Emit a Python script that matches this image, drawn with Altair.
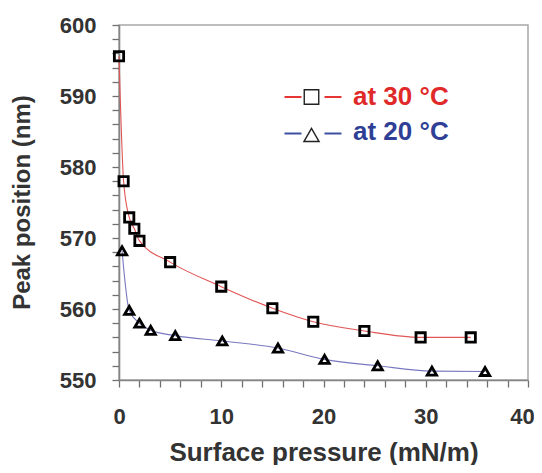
import altair as alt
import pandas as pd

# ---- data ----
series_names = ["at 30 °C", "at 20 °C"]
x_30 = [0.0, 0.45, 1.0, 1.5, 2.0, 5.0, 10.0, 15.0, 19.0, 24.0, 29.5, 34.4]
y_30 = [595.6, 578.0, 572.9, 571.3, 569.6, 566.6, 563.15, 560.1, 558.2, 556.9, 556.0, 556.0]
x_20 = [0.3, 1.0, 2.0, 3.1, 5.5, 10.1, 15.55, 20.1, 25.3, 30.6, 35.8]
y_20 = [568.2, 559.8, 558.0, 557.0, 556.25, 555.5, 554.5, 552.9, 552.0, 551.25, 551.2]
x_ticks = list(range(0, 41, 2))
y_ticks = list(range(550, 601, 2))

line_colors = ["#e25555", "#7878c0"]
dash_colors = ["#e53535", "#3d4fa0"]
text_colors = ["#e02a2a", "#2f3f96"]
shapes = ["square", "triangle-up"]
FONT = "Liberation Sans"

df = pd.DataFrame({
    "pressure": x_30 + x_20,
    "peak": y_30 + y_20,
    "series": [series_names[0]] * len(x_30) + [series_names[1]] * len(x_20),
})

x_enc = alt.X(
    "pressure:Q",
    scale=alt.Scale(domain=[0, 40], nice=False, zero=False),
    axis=alt.Axis(
        values=x_ticks,
        labelExpr="datum.value % 10 == 0 ? datum.label : ''",
        title="Surface pressure (mN/m)",
        titleFontSize=26,
        titleY=80,
        titleBaseline="alphabetic",
        labelPadding=19,
        labelOffset={"condition": {"test": "datum.value == 40", "value": -6}, "value": 0},
        labelFlush=False,
        labelOverlap=False,
    ),
)
y_enc = alt.Y(
    "peak:Q",
    scale=alt.Scale(domain=[550, 600], nice=False, zero=False),
    axis=alt.Axis(
        values=y_ticks,
        labelExpr="datum.value % 10 == 0 ? datum.label : ''",
        title="Peak position (nm)",
        titleFontSize=24,
        titleAngle=-90,
        titleAlign="center",
        titleBaseline="middle",
        titleX=-97,
        titleY=177,
        labelPadding=16,
        labelFlush=False,
        labelOverlap=False,
    ),
)

color_enc = alt.Color("series:N", scale=alt.Scale(domain=series_names, range=line_colors), legend=None)
shape_enc = alt.Shape("series:N", scale=alt.Scale(domain=series_names, range=shapes), legend=None)

lines = alt.Chart(df).mark_line(interpolate="monotone", strokeWidth=1.1).encode(
    x=x_enc, y=y_enc, color=color_enc, detail="series:N"
)
points = alt.Chart(df).mark_point(
    filled=False, size=86, strokeWidth=2.8, color="black", opacity=1
).encode(x=x_enc, y=y_enc, shape=shape_enc)

# ---- custom legend (annotation), one datum per mark ----
leg_layers = []
rows_y = [72, 108.5]
sym_y = [72, 110]
text_y = [79.5, 114.5]
for i, name in enumerate(series_names):
    one = pd.DataFrame({"label": [name]})
    for xa, xb in [(165.5, 182.5), (205.5, 222.5)]:
        leg_layers.append(
            alt.Chart(one).mark_rule(color=dash_colors[i], strokeWidth=2).encode(
                x=alt.value(xa), x2=alt.value(xb), y=alt.value(rows_y[i])
            )
        )
    leg_layers.append(
        alt.Chart(one).mark_point(
            shape=shapes[i], filled=False, size=210 if i == 0 else 230,
            strokeWidth=1.4, color="#222222", opacity=1
        ).encode(x=alt.value(192.5), y=alt.value(sym_y[i]))
    )
    leg_layers.append(
        alt.Chart(one).mark_text(
            font=FONT, fontSize=26, fontWeight="bold", align="left",
            baseline="alphabetic", color=text_colors[i]
        ).encode(x=alt.value(234), y=alt.value(text_y[i]), text="label:N")
    )

chart = alt.layer(lines, points, *leg_layers).properties(
    width=409,
    height=355,
    autosize=alt.AutoSizeParams(type="none"),
    padding={"left": 111, "top": 17, "right": 6, "bottom": 85},
).configure_view(
    stroke="#a8a8a8", strokeWidth=1.5
).configure_axis(
    grid=False,
    domainColor="#858585",
    domainWidth=1.6,
    tickColor="#707070",
    tickWidth=1.3,
    tickSize=7,
    labelFont=FONT,
    labelFontSize=22,
    labelFontWeight="bold",
    labelColor="#333333",
    titleFont=FONT,
    titleFontWeight="bold",
    titleColor="#333333",
)

chart.save("out.html", embed_options={"renderer": "svg", "actions": False})
